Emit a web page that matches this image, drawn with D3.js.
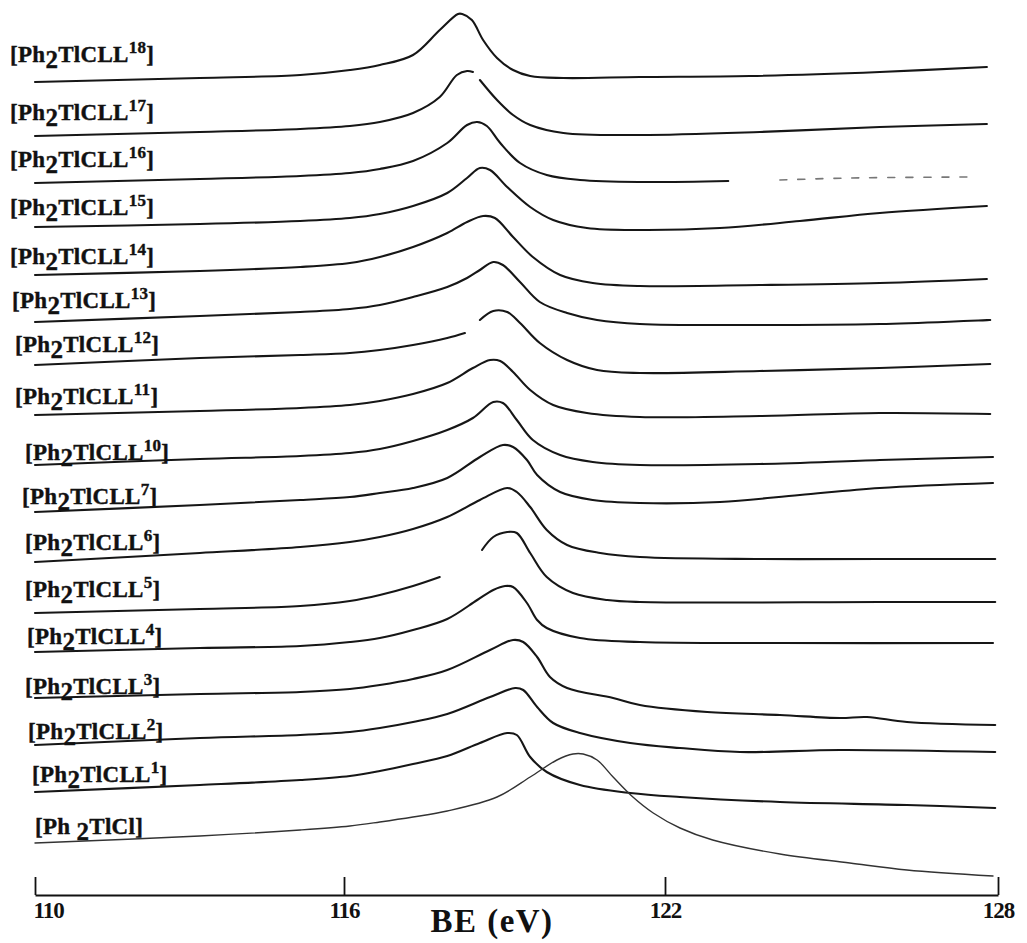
<!DOCTYPE html>
<html lang="en">
<head>
<meta charset="UTF-8">
<title>Tl 4f XPS spectra</title>
<script src="https://d3js.org/d3.v7.min.js"></script>
<style>
    body {
        margin: 0;
        background: #fff;
    }
    svg text {
        font-family: "Liberation Serif", "Times New Roman", serif;
        font-weight: bold;
        fill: #111;
    }
</style>
</head>
<body>
<div id="chart"></div>
<script>
    // ---- values: [BE (eV), stacked intensity (a.u.)] ----
    var beTicks = [110, 116, 122, 128];
    var ligands = ["18", "17", "16", "15", "14", "13", "12", "11", "10", "7", "6", "5", "4", "3", "2", "1", null];

    var s18 = [[110, 813], [113.20, 817], [115.15, 820], [116.11, 825], [116.67, 830], [117.29, 840], [117.79, 865], [118.13, 881], [118.21, 881], [118.39, 875], [118.60, 855], [118.86, 837], [119.16, 825], [119.48, 819], [120.10, 817], [121.53, 818], [123.53, 819], [125.87, 823], [127.80, 828]];
    var s17 = [[110, 759], [113.20, 763], [115.15, 766], [116.11, 769], [116.67, 773], [117.29, 782], [117.79, 798], [118.11, 820], [118.30, 824], [118.41, 823], [118.54, 815], [118.86, 795], [119.16, 780], [119.48, 770], [120.10, 762], [121.53, 760], [123.71, 763], [125.87, 768], [127.80, 771]];
    var s16 = [[110, 712], [113.20, 716], [115.15, 719], [116.11, 722], [116.67, 726], [117.29, 734], [117.93, 752], [118.30, 770], [118.49, 773], [118.67, 769], [118.92, 752], [119.29, 732], [119.79, 720], [120.41, 715], [121.53, 713], [123.14, 714], [124.07, 715], [125.33, 717], [127.59, 718]];
    var s15 = [[110, 668], [113.20, 671], [115.15, 674], [116.11, 677], [116.67, 681], [117.29, 689], [117.93, 702], [118.30, 717], [118.54, 727], [118.73, 725], [119.05, 708], [119.48, 688], [119.91, 675], [120.54, 667], [121.53, 665], [122.99, 667], [124.43, 674], [125.87, 682], [127.80, 689]];
    var s14 = [[110, 620], [113.20, 624], [115.15, 628], [116.11, 632], [116.67, 638], [117.29, 648], [117.93, 662], [118.30, 673], [118.60, 679], [118.82, 677], [119.16, 658], [119.53, 638], [120.04, 620], [120.65, 612], [121.53, 609], [123.71, 610], [125.87, 612], [127.80, 616]];
    var s13 = [[110, 573], [113.20, 579], [115.15, 583], [116.11, 586], [116.67, 590], [117.29, 598], [117.93, 608], [118.30, 617], [118.54, 625], [118.79, 633], [118.97, 630], [119.29, 613], [119.66, 593], [120.17, 582], [120.73, 575], [121.53, 571], [123.71, 570], [125.87, 571], [127.86, 575]];
    var s12 = [[110, 530], [113.20, 537], [115.15, 540], [116.11, 542], [116.67, 545], [117.29, 550], [117.93, 557], [118.26, 562], [118.54, 575], [118.79, 584], [119.05, 583], [119.29, 572], [119.66, 552], [120.17, 535], [120.73, 525], [121.53, 522], [123.71, 524], [125.87, 527], [127.86, 531]];
    var s11 = [[110, 480], [113.20, 484], [115.15, 487], [116.11, 490], [116.67, 494], [117.29, 501], [117.93, 512], [118.41, 527], [118.73, 535], [118.92, 534], [119.16, 523], [119.48, 505], [119.91, 490], [120.54, 482], [121.53, 478], [123.71, 479], [125.87, 482], [127.86, 481]];
    var s10 = [[110, 430], [113.20, 436], [115.15, 439], [116.11, 442], [116.67, 446], [117.29, 454], [117.93, 465], [118.41, 477], [118.79, 493], [118.97, 492], [119.23, 475], [119.53, 455], [120.04, 440], [120.65, 433], [121.53, 430], [123.71, 431], [125.87, 435], [127.91, 438]];
    var s7 = [[110, 383], [113.20, 390], [115.15, 395], [116.11, 398], [116.67, 402], [117.29, 407], [117.93, 417], [118.54, 438], [118.97, 450], [119.16, 448], [119.42, 435], [119.61, 420], [120.04, 403], [120.65, 395], [121.53, 392], [122.99, 393], [124.43, 400], [125.87, 407], [127.91, 412]];
    var s6 = [[110, 333], [113.20, 342], [115.15, 348], [116.11, 353], [116.67, 358], [117.29, 366], [117.93, 378], [118.54, 395], [119.05, 407], [119.23, 403], [119.48, 388], [119.79, 365], [120.17, 350], [120.79, 342], [121.53, 338], [123.71, 336], [125.87, 336], [127.95, 336]];
    var s5 = [[110, 282], [113.20, 286], [115.15, 289], [116.11, 294], [116.67, 300], [117.29, 309], [117.79, 318], [118.58, 345], [118.79, 358], [119.05, 363], [119.23, 362], [119.48, 342], [119.79, 318], [120.28, 302], [120.92, 295], [121.53, 293], [125.87, 293], [127.95, 293]];
    var s4 = [[110, 243], [113.20, 247], [115.15, 249], [116.11, 253], [116.67, 257], [117.29, 265], [117.93, 276], [118.49, 295], [118.79, 305], [119.01, 309], [119.16, 308], [119.42, 292], [119.61, 275], [119.79, 267], [120.41, 257], [121.53, 253], [124.07, 252], [127.91, 252]];
    var s3 = [[110, 197], [113.20, 201], [115.15, 203], [116.11, 206], [116.67, 210], [117.29, 216], [117.93, 225], [118.73, 245], [119.16, 255], [119.35, 253], [119.61, 238], [119.85, 218], [120.17, 207], [121.03, 197], [121.53, 190], [122.76, 183], [124.07, 180], [125.15, 177], [125.64, 178], [126.36, 173], [127.95, 170]];
    var s2 = [[110, 150], [113.20, 157], [115.15, 160], [116.11, 163], [116.67, 167], [117.29, 173], [117.93, 181], [118.73, 198], [119.20, 207], [119.35, 205], [119.61, 188], [119.91, 172], [120.41, 162], [121.35, 152], [122.27, 147], [123.35, 143], [125.15, 145], [127.95, 143]];
    var s1 = [[110, 103], [113.20, 110], [115.15, 115], [116.11, 119], [116.67, 124], [117.29, 131], [117.93, 139], [118.54, 152], [119.05, 162], [119.23, 160], [119.48, 138], [119.79, 123], [120.41, 110], [121.35, 102], [122.27, 98], [124.07, 93], [126.36, 90], [127.95, 87]];
    var sCl = [[110, 52], [113.20, 59], [115.15, 65], [116.11, 69], [116.67, 73], [117.29, 78], [117.93, 84], [118.86, 98], [119.48, 118], [119.98, 135], [120.28, 141], [120.47, 141], [120.73, 135], [121.03, 118], [121.40, 98], [121.78, 82], [122.27, 67], [122.86, 55], [124.07, 41], [125.33, 32], [126.36, 25], [127.91, 19]];

    var spectra = [s18, s17, s16, s15, s14, s13, s12, s11, s10, s7, s6, s5, s4, s3, s2, s1, sCl];

    // places where the printed trace is broken, and where it fades to dashes
    var breaks = [[], [[118.41, 118.54]], [[123.14, 124.07]], [], [], [], [[118.26, 118.54]], [], [], [], [], [[117.79, 118.58]], [], [], [], [], []];
    var faintFrom = [null, null, 124.07, null, null, null, null, null, null, null, null, null, null, null, null, null, null];

    // ---- layout ----
    var width = 1027,
        height = 943,
        axisY = 895;

    // label placement (left x, text baseline)
    var labelX = [10, 10, 10, 10, 10, 12, 15, 15, 25, 22, 25, 25, 27, 25, 28, 32, 35];
    var labelY = [62, 120, 167, 215, 264, 308, 352, 404, 460, 504, 550, 597, 644, 694, 739, 782, 834];

    var svg = d3.select("#chart")
        .append("svg")
        .attr("width", width)
        .attr("height", height);

    // the printed BE axis is not perfectly even, so use a piecewise scale through the ticks
    var x = d3.scaleLinear()
        .domain(beTicks)
        .range([35, 344, 665, 998]);

    var y = d3.scaleLinear()
        .domain([0, 900])
        .range([axisY, axisY - 900]);

    var line = d3.line()
        .x(function (d) { return x(d[0]); })
        .y(function (d) { return y(d[1]); })
        .curve(d3.curveCatmullRom.alpha(0.5));

    // split a spectrum where it has a break
    function segments(pts, gaps) {
        var out = [[pts[0]]];
        for (var k = 1; k < pts.length; k++) {
            var a = pts[k - 1][0], b = pts[k][0];
            var cut = gaps.some(function (g) { return a <= g[0] && b >= g[1]; });
            if (cut) out.push([]);
            out[out.length - 1].push(pts[k]);
        }
        return out;
    }

    var traces = svg.append("g");
    spectra.forEach(function (pts, i) {
        var isCl = ligands[i] === null;
        segments(pts, breaks[i]).forEach(function (seg) {
            var faint = faintFrom[i] !== null && seg[0][0] >= faintFrom[i];
            traces.append("path")
                .datum(seg)
                .attr("d", line)
                .attr("fill", "none")
                .attr("stroke", faint ? "#777" : (isCl ? "#333" : "#161616"))
                .attr("stroke-width", faint ? 1.6 : (isCl ? 1.4 : 2.1))
                .attr("stroke-dasharray", faint ? "7,11" : null)
                .attr("stroke-linejoin", "round")
                .attr("stroke-linecap", "round");
        });
    });

    // compound labels
    ligands.forEach(function (lig, i) {
        var t = svg.append("text")
            .attr("x", labelX[i])
            .attr("y", labelY[i])
            .attr("font-size", 23)
            .attr("letter-spacing", 0.3)
            .attr("stroke", "#111")
            .attr("stroke-width", 0.4);
        t.append("tspan").text(lig === null ? "[Ph " : "[Ph");
        t.append("tspan").attr("dy", 6).attr("font-size", 25).text("2");
        if (lig === null) {
            t.append("tspan").attr("dy", -6).text("TlCl]");
        } else {
            t.append("tspan").attr("dy", -6).text("TlCLL");
            t.append("tspan").attr("dy", -9).attr("font-size", 17).text(lig);
            t.append("tspan").attr("dy", 9).text("]");
        }
    });

    // BE axis, ticks pointing up
    var ax = svg.append("g")
        .attr("transform", "translate(0," + axisY + ")")
        .call(d3.axisBottom(x)
            .tickValues(beTicks)
            .tickFormat(d3.format("d"))
            .tickSizeInner(-18)
            .tickSizeOuter(0)
            .tickPadding(7));
    ax.select(".domain").attr("stroke", "#111").attr("stroke-width", 2);
    ax.selectAll(".tick line").attr("stroke", "#111").attr("stroke-width", 1.8);
    ax.selectAll(".tick text")
        .attr("font-family", "Liberation Serif, serif")
        .attr("font-weight", "bold")
        .attr("font-size", 23)
        .attr("letter-spacing", -1)
        .attr("fill", "#111");
    ax.select(".tick text").attr("text-anchor", "start").attr("x", -2);

    svg.append("text")
        .attr("x", 492)
        .attr("y", 932)
        .attr("text-anchor", "middle")
        .attr("font-size", 33)
        .attr("letter-spacing", 1.5)
        .text("BE (eV)");
</script>
</body>
</html>
